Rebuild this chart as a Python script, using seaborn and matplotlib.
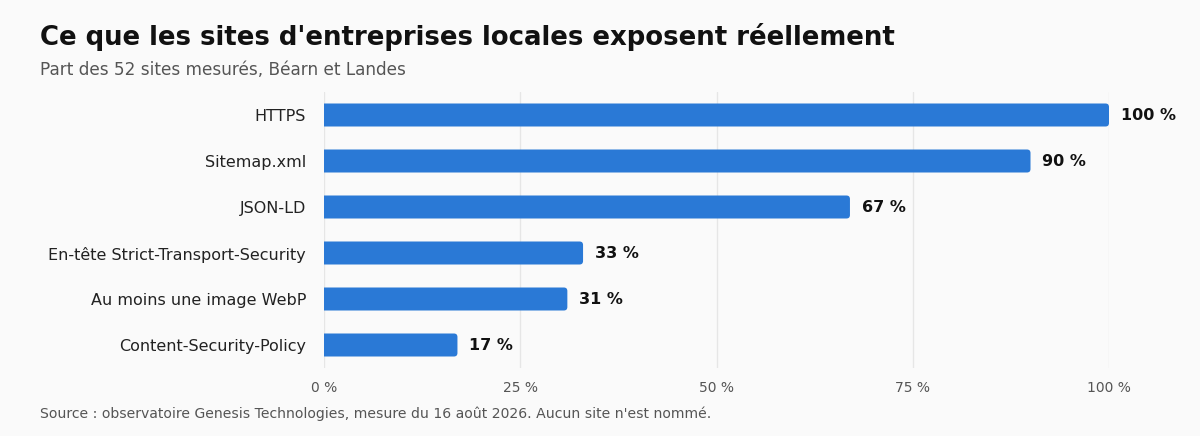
import matplotlib
matplotlib.use("Agg")
import matplotlib.pyplot as plt
from matplotlib.patches import PathPatch
from matplotlib.path import Path
import seaborn as sns
import pandas as pd

# Données
categories = [
    "HTTPS",
    "Sitemap.xml",
    "JSON-LD",
    "En-tête Strict-Transport-Security",
    "Au moins une image WebP",
    "Content-Security-Policy",
]
values = [100, 90, 67, 33, 31, 17]
x_ticks = [0, 25, 50, 75, 100]

title = "Ce que les sites d'entreprises locales exposent réellement"
subtitle = "Part des 52 sites mesurés, Béarn et Landes"
source = "Source : observatoire Genesis Technologies, mesure du 16 août 2026. Aucun site n'est nommé."

bg = "#fafafa"
bar_color = "#2a79d6"

sns.set_theme(style="white")
plt.rcParams["font.family"] = ["DejaVu Sans"]

df = pd.DataFrame({"categorie": categories, "part": values})

fig = plt.figure(figsize=(12, 4.36), dpi=100, facecolor=bg)
ax = fig.add_axes([324 / 1200, 1 - 368 / 436, (1109 - 324) / 1200, 276 / 436])
ax.set_facecolor(bg)

sns.barplot(data=df, x="part", y="categorie", color=bar_color, width=0.5,
            saturation=1, ax=ax, zorder=3)

ax.set_xlim(0, 100)
ax.set_ylim(len(categories) - 0.5, -0.5)

# barres : coin gauche droit, extrémité droite arrondie
px_x = (1109 - 324) / 100.0
px_y = 46.0
rx, ry = 3.5 / px_x, 3.5 / px_y
for patch in list(ax.patches):
    x0, y0 = patch.get_x(), patch.get_y()
    w, h = patch.get_width(), patch.get_height()
    patch.remove()
    x1, y1 = x0 + w, y0 + h
    verts = [
        (x0, y0), (x1 - rx, y0), (x1, y0), (x1, y0 + ry),
        (x1, y1 - ry), (x1, y1), (x1 - rx, y1), (x0, y1), (x0, y0),
    ]
    codes = [
        Path.MOVETO, Path.LINETO, Path.CURVE3, Path.CURVE3,
        Path.LINETO, Path.CURVE3, Path.CURVE3, Path.LINETO, Path.CLOSEPOLY,
    ]
    ax.add_patch(PathPatch(Path(verts, codes), facecolor=bar_color,
                           edgecolor="none", zorder=3))

for i, v in enumerate(values):
    ax.text(v + 12 / px_x, i, f"{v} %", va="center", ha="left",
            fontsize=11.5, fontweight="bold", color="#111111")

ax.set_xticks(x_ticks)
ax.set_xticklabels([f"{t} %" for t in x_ticks], fontsize=10, color="#555555")
ax.tick_params(axis="x", length=0, pad=9)
ax.tick_params(axis="y", length=0, pad=13, labelsize=11.5, labelcolor="#222222")
ax.xaxis.grid(True, color="#e6e6e6", linewidth=1, zorder=0)
ax.yaxis.grid(False)
ax.set_axisbelow(True)
ax.set_xlabel("")
ax.set_ylabel("")
sns.despine(ax=ax, left=True, bottom=True)

fig.text(40 / 1200, 1 - 37 / 436, title, fontsize=18.7, fontweight="bold",
         color="#111111", va="center", ha="left")
fig.text(40 / 1200, 1 - 70 / 436, subtitle, fontsize=12.2, color="#555555",
         va="center", ha="left")
fig.text(40 / 1200, 1 - 414 / 436, source, fontsize=10.1, color="#555555",
         va="center", ha="left")

fig.savefig("out.png", dpi=100, facecolor=bg)
